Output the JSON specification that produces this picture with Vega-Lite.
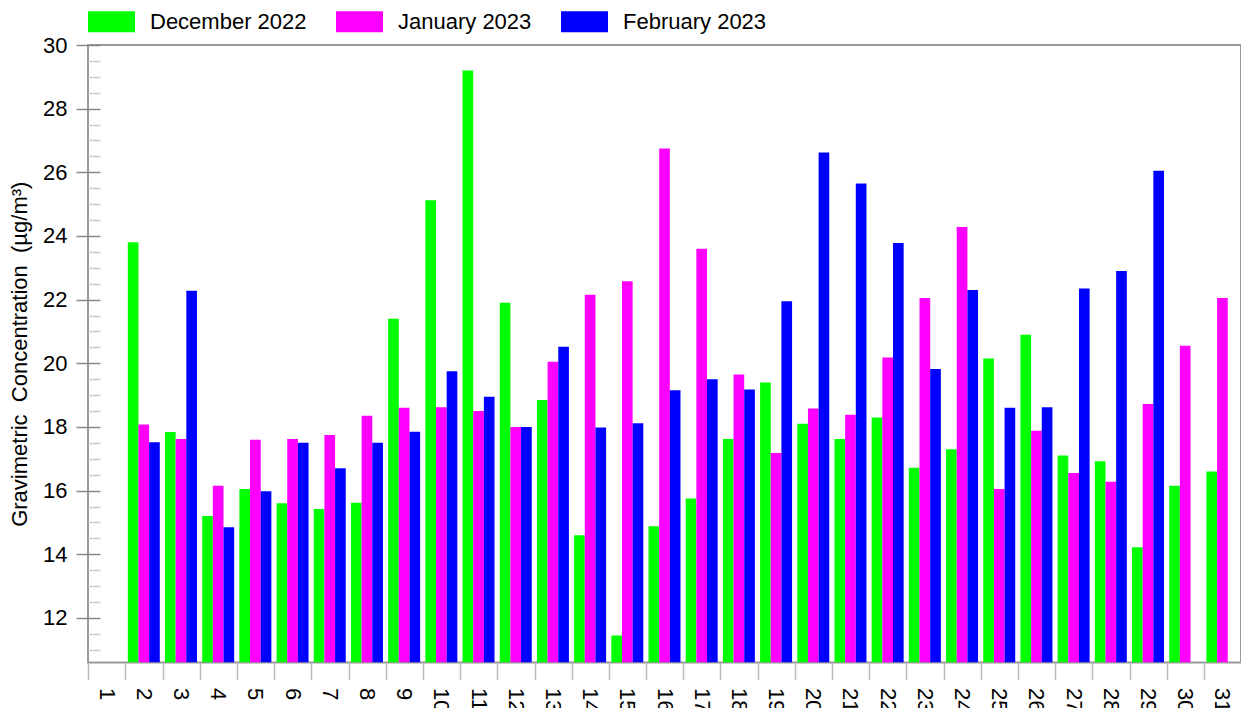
{
  "$schema": "https://vega.github.io/schema/vega-lite/v6.json",
  "width": 1153,
  "height": 617.5,
  "padding": {"left": 8, "top": -2, "right": 0, "bottom": 0},
  "config": {"view": {"stroke": "#999", "strokeWidth": 2}, "font": "Liberation Sans"},
  "data": {"values": [
    {"day": 2, "month": "December 2022", "value": 23.8}, {"day": 2, "month": "January 2023", "value": 18.08}, {"day": 2, "month": "February 2023", "value": 17.52},
    {"day": 3, "month": "December 2022", "value": 17.84}, {"day": 3, "month": "January 2023", "value": 17.62}, {"day": 3, "month": "February 2023", "value": 22.28},
    {"day": 4, "month": "December 2022", "value": 15.2}, {"day": 4, "month": "January 2023", "value": 16.15}, {"day": 4, "month": "February 2023", "value": 14.85},
    {"day": 5, "month": "December 2022", "value": 16.05}, {"day": 5, "month": "January 2023", "value": 17.6}, {"day": 5, "month": "February 2023", "value": 15.98},
    {"day": 6, "month": "December 2022", "value": 15.6}, {"day": 6, "month": "January 2023", "value": 17.62}, {"day": 6, "month": "February 2023", "value": 17.5},
    {"day": 7, "month": "December 2022", "value": 15.42}, {"day": 7, "month": "January 2023", "value": 17.75}, {"day": 7, "month": "February 2023", "value": 16.7},
    {"day": 8, "month": "December 2022", "value": 15.62}, {"day": 8, "month": "January 2023", "value": 18.35}, {"day": 8, "month": "February 2023", "value": 17.5},
    {"day": 9, "month": "December 2022", "value": 21.4}, {"day": 9, "month": "January 2023", "value": 18.6}, {"day": 9, "month": "February 2023", "value": 17.85},
    {"day": 10, "month": "December 2022", "value": 25.12}, {"day": 10, "month": "January 2023", "value": 18.62}, {"day": 10, "month": "February 2023", "value": 19.75},
    {"day": 11, "month": "December 2022", "value": 29.2}, {"day": 11, "month": "January 2023", "value": 18.5}, {"day": 11, "month": "February 2023", "value": 18.95},
    {"day": 12, "month": "December 2022", "value": 21.9}, {"day": 12, "month": "January 2023", "value": 18.0}, {"day": 12, "month": "February 2023", "value": 18.0},
    {"day": 13, "month": "December 2022", "value": 18.85}, {"day": 13, "month": "January 2023", "value": 20.05}, {"day": 13, "month": "February 2023", "value": 20.52},
    {"day": 14, "month": "December 2022", "value": 14.6}, {"day": 14, "month": "January 2023", "value": 22.15}, {"day": 14, "month": "February 2023", "value": 17.98},
    {"day": 15, "month": "December 2022", "value": 11.45}, {"day": 15, "month": "January 2023", "value": 22.58}, {"day": 15, "month": "February 2023", "value": 18.12},
    {"day": 16, "month": "December 2022", "value": 14.88}, {"day": 16, "month": "January 2023", "value": 26.75}, {"day": 16, "month": "February 2023", "value": 19.15},
    {"day": 17, "month": "December 2022", "value": 15.75}, {"day": 17, "month": "January 2023", "value": 23.6}, {"day": 17, "month": "February 2023", "value": 19.5},
    {"day": 18, "month": "December 2022", "value": 17.62}, {"day": 18, "month": "January 2023", "value": 19.65}, {"day": 18, "month": "February 2023", "value": 19.18},
    {"day": 19, "month": "December 2022", "value": 19.4}, {"day": 19, "month": "January 2023", "value": 17.18}, {"day": 19, "month": "February 2023", "value": 21.95},
    {"day": 20, "month": "December 2022", "value": 18.1}, {"day": 20, "month": "January 2023", "value": 18.58}, {"day": 20, "month": "February 2023", "value": 26.62},
    {"day": 21, "month": "December 2022", "value": 17.62}, {"day": 21, "month": "January 2023", "value": 18.38}, {"day": 21, "month": "February 2023", "value": 25.65},
    {"day": 22, "month": "December 2022", "value": 18.3}, {"day": 22, "month": "January 2023", "value": 20.18}, {"day": 22, "month": "February 2023", "value": 23.78},
    {"day": 23, "month": "December 2022", "value": 16.72}, {"day": 23, "month": "January 2023", "value": 22.05}, {"day": 23, "month": "February 2023", "value": 19.82},
    {"day": 24, "month": "December 2022", "value": 17.3}, {"day": 24, "month": "January 2023", "value": 24.28}, {"day": 24, "month": "February 2023", "value": 22.3},
    {"day": 25, "month": "December 2022", "value": 20.15}, {"day": 25, "month": "January 2023", "value": 16.05}, {"day": 25, "month": "February 2023", "value": 18.6},
    {"day": 26, "month": "December 2022", "value": 20.9}, {"day": 26, "month": "January 2023", "value": 17.88}, {"day": 26, "month": "February 2023", "value": 18.62},
    {"day": 27, "month": "December 2022", "value": 17.1}, {"day": 27, "month": "January 2023", "value": 16.55}, {"day": 27, "month": "February 2023", "value": 22.35},
    {"day": 28, "month": "December 2022", "value": 16.92}, {"day": 28, "month": "January 2023", "value": 16.28}, {"day": 28, "month": "February 2023", "value": 22.9},
    {"day": 29, "month": "December 2022", "value": 14.22}, {"day": 29, "month": "January 2023", "value": 18.72}, {"day": 29, "month": "February 2023", "value": 26.05},
    {"day": 30, "month": "December 2022", "value": 16.15}, {"day": 30, "month": "January 2023", "value": 20.55},
    {"day": 31, "month": "December 2022", "value": 16.6}, {"day": 31, "month": "January 2023", "value": 22.05}
  ]},
  "layer": [
    {
      "mark": {"type": "bar", "clip": true},
      "encoding": {
        "x": {
          "field": "day", "type": "ordinal",
          "scale": {"domain": [1,2,3,4,5,6,7,8,9,10,11,12,13,14,15,16,17,18,19,20,21,22,23,24,25,26,27,28,29,30,31], "paddingInner": 0.14, "paddingOuter": 0.07},
          "axis": {"title": null, "bandPosition": -0.06, "labelAngle": 90, "labelFontSize": 22, "labelColor": "black", "labelPadding": 8, "tickSize": 17, "tickColor": "#bbb", "tickWidth": 1.5, "domain": false, "grid": false, "labelOverlap": false}
        },
        "xOffset": {"field": "month", "type": "nominal", "sort": ["December 2022", "January 2023", "February 2023"], "scale": {"paddingInner": 0, "paddingOuter": 0}},
        "y": {
          "field": "value", "type": "quantitative",
          "scale": {"domain": [10.6, 30], "nice": false, "zero": false, "clamp": true},
          "axis": {"title": "Gravimetric \u00a0Concentration \u00a0(µg/m³)", "values": [12,14,16,18,20,22,24,26,28,30], "tickSize": 12, "tickColor": "#888", "tickWidth": 1.5, "labelFontSize": 22, "labelColor": "black", "labelPadding": 9, "titleFontSize": 22, "titleFontWeight": "normal", "titleColor": "black", "titlePadding": 11, "domain": false, "grid": false}
        },
        "color": {
          "field": "month", "type": "nominal",
          "scale": {"domain": ["December 2022", "January 2023", "February 2023"], "range": ["#00ff00", "#ff00ff", "#0000ff"]},
          "legend": {"orient": "top", "direction": "horizontal", "title": null, "labelFontSize": 22, "labelColor": "black", "symbolType": "M-1,-0.447H1V0.447H-1Z", "symbolSize": 2209, "symbolStrokeWidth": 0, "labelOffset": 15, "columnPadding": 29, "offset": 12, "padding": 0}
        }
      }
    },
    {
      "mark": {"type": "rule", "opacity": 0},
      "encoding": {
        "y": {
          "field": "value", "type": "quantitative",
          "axis": {"title": null, "orient": "left", "values": [11,11.5,12,12.5,13,13.5,14,14.5,15,15.5,16,16.5,17,17.5,18,18.5,19,19.5,20,20.5,21,21.5,22,22.5,23,23.5,24,24.5,25,25.5,26,26.5,27,27.5,28,28.5,29,29.5,30], "tickSize": -12, "labels": false, "domain": false, "grid": false, "tickWidth": 1.5, "tickColor": {"condition": {"test": "datum.value % 2 === 0", "value": "#888"}, "value": "#ccc"}}
        }
      }
    }
  ],
  "resolve": {"axis": {"y": "independent"}}
}
